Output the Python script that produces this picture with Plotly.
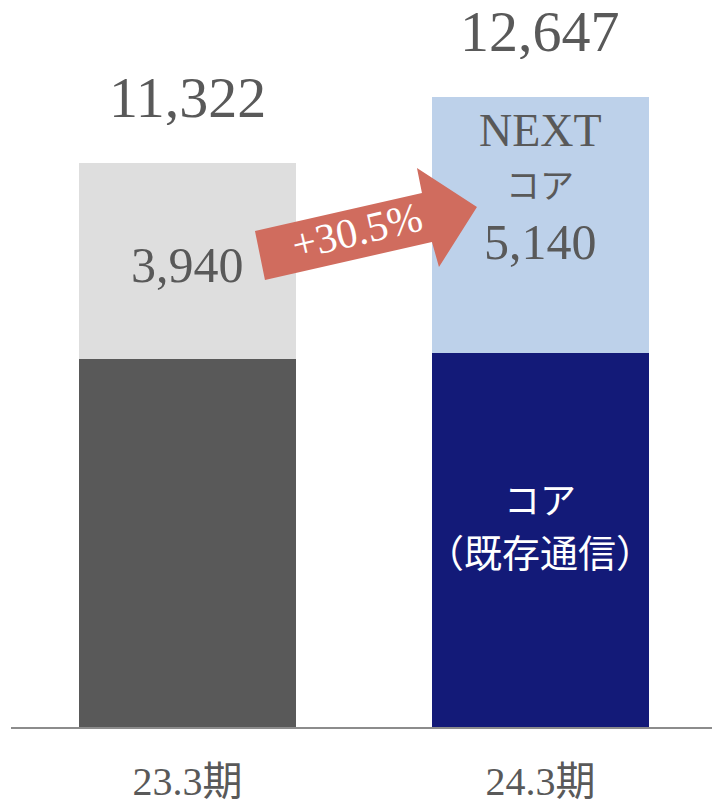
import plotly.graph_objects as go

# data
periods = ["23.3期", "24.3期"]
core = [7382, 7507]          # コア（既存通信）
next_core = [3940, 5140]     # NEXTコア
totals = [11322, 12647]
growth_label = "+30.5%"

SERIF = "Liberation Serif, Times New Roman, Noto Sans CJK JP, serif"
JP = "Noto Sans CJK JP, sans-serif"
GRAY_TXT = "#595959"

# pixel helpers (plot area: x from 11px, baseline at 727px)
PX_PER_UNIT = 0.04985
BASE_PX = 727
X0_PX = 187.5
X_STEP = 353.0


def yv(px):
    return (BASE_PX - px) / PX_PER_UNIT


def xv(px):
    return (px - X0_PX) / X_STEP


xs = list(range(len(periods)))

fig = go.Figure()
fig.add_trace(go.Bar(
    x=xs, y=core, width=0.615,
    marker=dict(color=["#595959", "#131a78"], line=dict(width=0)),
    hoverinfo="skip",
))
fig.add_trace(go.Bar(
    x=xs, y=next_core, width=0.615,
    marker=dict(color=["#dedede", "#bdd1ea"], line=dict(width=0)),
    hoverinfo="skip",
))

annotations = []
# totals above bars
for i, t in enumerate(totals):
    annotations.append(dict(
        x=i, y=t, text=f"{t:,}", showarrow=False, yanchor="bottom", yshift=36,
        height=56, valign="middle",
        font=dict(family=SERIF, size=58, color=GRAY_TXT),
    ))

# 23.3 next-core value
annotations.append(dict(
    x=0, y=yv(265), text=f"{next_core[0]:,}", showarrow=False,
    font=dict(family=SERIF, size=50, color=GRAY_TXT),
))
# 24.3 NEXT core block
annotations.append(dict(
    x=1, y=yv(130), text="NEXT", showarrow=False,
    font=dict(family=SERIF, size=46, color=GRAY_TXT),
))
annotations.append(dict(
    x=1, y=yv(183), text="コア", showarrow=False,
    font=dict(family=JP, size=34, color=GRAY_TXT),
))
annotations.append(dict(
    x=1, y=yv(242), text=f"{next_core[1]:,}", showarrow=False,
    font=dict(family=SERIF, size=50, color=GRAY_TXT),
))
# core label in navy bar
annotations.append(dict(
    x=1, y=yv(498), text="コア", showarrow=False,
    font=dict(family=JP, size=36, color="white"),
))
annotations.append(dict(
    x=1, y=yv(550), text="（既存通信）", showarrow=False,
    font=dict(family=JP, size=38, color="white"),
))
# growth label on arrow
annotations.append(dict(
    x=xv(357), y=yv(231), text=growth_label, showarrow=False, textangle=-13,
    font=dict(family=SERIF, size=42, color="white"),
))

# arrow polygon (pixel outline converted to data space)
arrow_px = [(255, 231), (422, 193), (417, 168), (477, 207),
            (439, 267), (432, 242), (265, 280)]
path = "M " + " L ".join(f"{xv(a):.4f},{yv(b):.1f}" for a, b in arrow_px) + " Z"

fig.update_layout(
    barmode="stack",
    width=712, height=803,
    margin=dict(l=11, r=0, t=0, b=76, autoexpand=False),
    paper_bgcolor="white", plot_bgcolor="white",
    showlegend=False,
    annotations=annotations,
    shapes=[dict(type="path", path=path, xref="x", yref="y",
                 fillcolor="#d06c5e", line=dict(width=0), layer="above")],
)
fig.update_xaxes(
    range=[-0.5, 1.486], tickvals=xs, ticktext=periods,
    showline=True, linecolor="#8c8c8c", linewidth=2,
    showgrid=False, zeroline=False, ticks="", automargin=False,
    tickfont=dict(family=SERIF, size=40, color=GRAY_TXT),
    ticklabelstandoff=18,
)
fig.update_yaxes(range=[0, yv(0)], visible=False, showgrid=False,
                 zeroline=False, automargin=False)

# drop the default body margin so the figure fills the window
fig.write_html("out.html", config={"displayModeBar": False},
               post_script="document.body.style.margin='0';")
